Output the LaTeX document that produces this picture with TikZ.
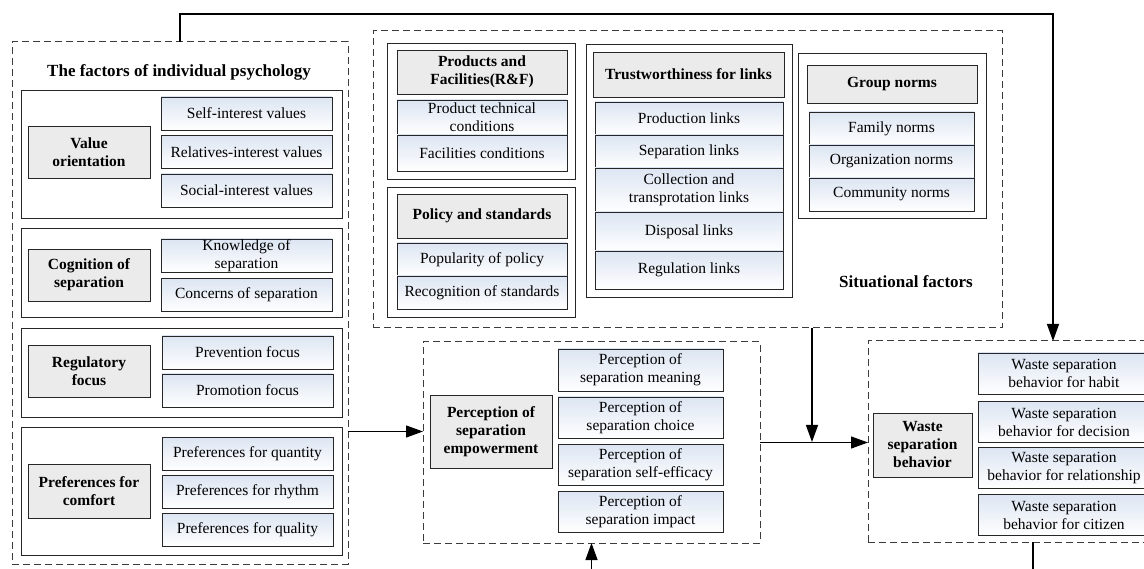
\documentclass[tikz,border=0pt]{standalone}
\usepackage{fontspec}
\setmainfont{Liberation Serif}
\usetikzlibrary{positioning, arrows.meta, calc}
\definecolor{figink}{HTML}{262626}
\definecolor{figdash}{HTML}{3C3C3C}
\definecolor{fighead}{HTML}{EBEBEB}
\definecolor{figtop}{HTML}{DCE5F2}

\begin{document}
\begin{tikzpicture}[
  x=1pt, y=-1pt,
  line width=1.3pt, line join=miter,
  >={Triangle[length=17pt, width=12pt]},
  dashbox/.style = {draw=figdash, line width=1pt, dash pattern=on 7pt off 4pt,
                inner sep=0pt, outer sep=0pt},
  grpbox/.style = {draw=figink, line width=0.9pt, fill=white,
                inner sep=0pt, outer sep=0pt},
  headbox/.style = {draw=figink, line width=0.9pt, fill=fighead,
                inner xsep=2pt, inner ysep=0pt, outer sep=0pt, align=center,
                font=\fontsize{15.5}{18}\selectfont\bfseries},
  itembox/.style = {draw=figink, line width=0.9pt, top color=figtop, bottom color=white,
                inner xsep=2pt, inner ysep=0pt, outer sep=0pt, align=center,
                font=\fontsize{15.5}{18}\selectfont},
  headL/.style = {headbox, minimum width=122pt, minimum height=52pt},
  itemL/.style = {itembox, minimum width=171pt, minimum height=33pt},
  ttl/.style = {font=\fontsize{17}{20}\selectfont\bfseries, inner sep=0pt}
]
\useasboundingbox (0,0) rectangle (1144,569);

% individual psychology
\node[dashbox, minimum width=336pt, minimum height=522pt] (indiv) at (180,303) {};
\node[ttl] (tIndiv) at (179,72) {The factors of individual psychology};

\node[grpbox, minimum width=321pt, minimum height=128pt] (gVal) at (181.5,154) {};
\node[grpbox, minimum width=321pt, minimum height=89pt] (gCog) at (181.5,272.5) {};
\node[grpbox, minimum width=321pt, minimum height=89pt] (gReg) at (181.5,372.5) {};
\node[grpbox, minimum width=321pt, minimum height=128pt] (gPre) at (181.5,491) {};

\node[headL] (hVal) at (89,152) {Value\\orientation};
\node[headL] (hCog) at (89,275) {Cognition of\\separation};
\node[headL] (hReg) at (89,371) {Regulatory\\focus};
\node[headL, minimum height=54pt] (hPre) at (89,491) {Preferences for\\comfort};

\node[itemL] (val1) at (246.5,113.5) {Self-interest values};
\node[itemL] (val2) at (246.5,152) {Relatives-interest values};
\node[itemL] (val3) at (246.5,190.5) {Social-interest values};
\node[itemL] (cog1) at (246.5,255.5) {Knowledge of\\separation};
\node[itemL] (cog2) at (246.5,295) {Concerns of separation};
\node[itemL] (reg1) at (247.5,352.5) {Prevention focus};
\node[itemL] (reg2) at (247.5,390.5) {Promotion focus};
\node[itemL] (pre1) at (247.5,453.5) {Preferences for quantity};
\node[itemL] (pre2) at (247.5,492) {Preferences for rhythm};
\node[itemL] (pre3) at (247.5,530) {Preferences for quality};

% situational factors
\node[dashbox, minimum width=629pt, minimum height=297pt] (situ) at (687.5,179.5) {};

\node[grpbox, minimum width=188pt, minimum height=136pt] (gPro) at (481,111) {};
\node[headbox, minimum width=170pt, minimum height=44pt] (hPro) at (482,72) {Products and\\Facilities(R\&F)};
\node[itembox, minimum width=170pt, minimum height=35pt] (pro1) at (482,117.5) {Product technical\\conditions};
\node[itembox, minimum width=170pt, minimum height=36pt] (pro2) at (482,153) {Facilities conditions};

\node[grpbox, minimum width=188pt, minimum height=130pt] (gPol) at (481,252) {};
\node[headbox, minimum width=170pt, minimum height=44pt] (hPol) at (482,216) {Policy and standards};
\node[itembox, minimum width=170pt, minimum height=33pt] (pol1) at (482,259.5) {Popularity of policy};
\node[itembox, minimum width=170pt, minimum height=33pt] (pol2) at (482,292.5) {Recognition of standards};

\node[grpbox, minimum width=206pt, minimum height=253pt] (gTru) at (689,170.5) {};
\node[headbox, minimum width=191pt, minimum height=45pt] (hTru) at (688.5,74.5) {Trustworthiness for links};
\node[itembox, minimum width=188pt, minimum height=33pt] (tru1) at (689,118.5) {Production links};
\node[itembox, minimum width=188pt, minimum height=33pt] (tru2) at (689,151.5) {Separation links};
\node[itembox, minimum width=188pt, minimum height=44pt] (tru3) at (689,190) {Collection and\\transprotation links};
\node[itembox, minimum width=188pt, minimum height=39pt] (tru4) at (689,231.5) {Disposal links};
\node[itembox, minimum width=188pt, minimum height=38pt] (tru5) at (689,270) {Regulation links};

\node[grpbox, minimum width=188pt, minimum height=165pt] (gGrp) at (892,135.5) {};
\node[headbox, minimum width=170pt, minimum height=38pt] (hGrp) at (892,84) {Group norms};
\node[itembox, minimum width=165pt, minimum height=33pt] (grp1) at (891.5,128.5) {Family norms};
\node[itembox, minimum width=165pt, minimum height=33pt] (grp2) at (891.5,161.5) {Organization norms};
\node[itembox, minimum width=165pt, minimum height=33pt] (grp3) at (891.5,194.5) {Community norms};

\node[ttl] (tSitu) at (906,282) {Situational factors};

% empowerment
\node[dashbox, minimum width=337pt, minimum height=201pt] (emp) at (591.5,442.5) {};
\node[headbox, minimum width=122pt, minimum height=73pt] (hEmp) at (491,431.5) {Perception of\\separation\\empowerment};
\node[itembox, minimum width=165pt, minimum height=42pt] (emp1) at (640.5,370) {Perception of\\separation meaning};
\node[itembox, minimum width=165pt, minimum height=41pt] (emp2) at (640.5,417.5) {Perception of\\separation choice};
\node[itembox, minimum width=165pt, minimum height=41pt] (emp3) at (640.5,464.5) {Perception of\\separation self-efficacy};
\node[itembox, minimum width=165pt, minimum height=41pt] (emp4) at (640.5,511.5) {Perception of\\separation impact};

% behavior
\node[dashbox, minimum width=292pt, minimum height=201pt] (waste) at (1014,441.5) {};
\node[headbox, minimum width=99pt, minimum height=64pt] (hWas) at (922.5,445) {Waste\\separation\\behavior};
\node[itembox, minimum width=172pt, minimum height=41pt] (was1) at (1064,373.5) {Waste separation\\behavior for habit};
\node[itembox, minimum width=172pt, minimum height=41pt] (was2) at (1064,422) {Waste separation\\behavior for decision};
\node[itembox, minimum width=172pt, minimum height=41pt] (was3) at (1064,468) {Waste separation\\behavior for relationship};
\node[itembox, minimum width=172pt, minimum height=41pt] (was4) at (1064,515) {Waste separation\\behavior for citizen};

% connectors
\coordinate (topR) at (1053,14);
\draw[->] (indiv.north) |- (topR) -- (topR |- waste.north);
\draw[->] (hEmp.west -| indiv.east) -- (hEmp.west -| emp.west);
\coordinate (jn) at (812,442);
\draw[->] (situ.south -| jn) -- (jn);
\draw[->] (emp.east) -- (emp.east -| waste.west);
\coordinate (empIn) at (591.5,580);
\draw[->] (empIn) -- (emp.south);
\coordinate (wasOut) at (1033,580);
\draw (waste.south -| wasOut) -- (wasOut);

\end{tikzpicture}
\end{document}
